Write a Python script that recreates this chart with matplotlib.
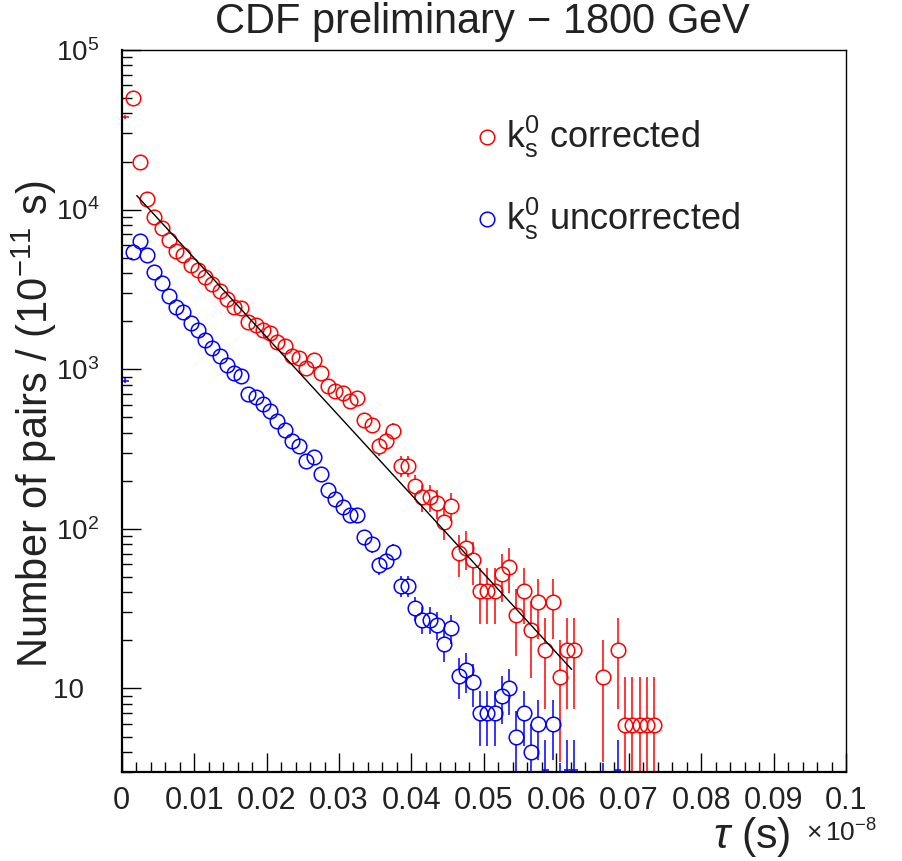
import numpy as np
import matplotlib
matplotlib.use("Agg")
import matplotlib.pyplot as plt
from matplotlib.collections import LineCollection
from matplotlib.ticker import FixedLocator, FuncFormatter, NullFormatter

# ===================== DATA =====================
# lifetime histogram, bins of 0.001 (x 1e-8 s), counts per bin
BIN_WIDTH = 0.001

corrected = [38000, 50000, 19800, 11700, 8970, 7650, 6440, 5540, 5190, 4510,
             4200, 3780, 3410, 3070, 2750, 2470, 2415, 1963, 1900, 1767,
             1685, 1472, 1390, 1215, 1175, 1018, 1135, 946, 780, 726,
             710, 629, 661, 480, 448, 329, 357, 412, 247, 247,
             185, 158, 158, 145, 110, 140, 70.7, 76, 63.5, 41,
             41, 41, 52, 58, 29, 41, 23.4, 34.7, 17.5, 34.7,
             11.8, 17.5, 17.5, 0, 0, 0, 11.8, 0, 17.5, 5.9,
             5.9, 5.9, 5.9, 5.9]

uncorrected = [848, 5460, 6370, 5210, 4090, 3460, 2880, 2450, 2270, 1945,
               1767, 1530, 1358, 1215, 1066, 946, 901, 703, 670, 605,
               544, 471, 418, 357, 329, 268, 282, 222, 176, 154,
               138, 123, 123, 89, 80, 59, 63, 72, 44, 44,
               32, 27, 27, 25, 19, 24, 12, 13, 11, 7,
               7, 7, 9, 10, 5, 7, 4, 6, 3, 6,
               2, 3, 3, 0, 0, 0, 2, 0, 3, 1,
               1, 1, 1, 1]

# exponential fit, end points
fit_tau = [0.0021, 0.0621]
fit_n = [12200, 13.2]

x_ticks = [0, 0.01, 0.02, 0.03, 0.04, 0.05, 0.06, 0.07, 0.08, 0.09, 0.1]
x_tick_labels = ["0", "0.01", "0.02", "0.03", "0.04", "0.05", "0.06",
                 "0.07", "0.08", "0.09", "0.1"]

XMIN, XMAX = 0.0, 0.1
YMIN, YMAX = 3.0, 1.0e5

corrected = np.array(corrected, dtype=float)
uncorrected = np.array(uncorrected, dtype=float)
tau = BIN_WIDTH * (np.arange(len(corrected)) + 0.5)

# poisson errors; corrected errors scale with the raw counts
unc_err = np.sqrt(uncorrected)
cor_err = np.where(uncorrected > 0, corrected / np.sqrt(np.maximum(uncorrected, 1)), 0)

# ===================== STYLE =====================
plt.rcParams['font.family'] = ['Liberation Sans', 'DejaVu Sans']
plt.rcParams['mathtext.fontset'] = 'custom'
plt.rcParams['mathtext.rm'] = 'Liberation Sans'
plt.rcParams['mathtext.it'] = 'Liberation Sans:italic'
TXT = "#222222"

DPI = 100
fig = plt.figure(figsize=(9.03, 8.61), dpi=DPI)
ax = fig.add_axes([0.1348, 0.1034, 0.8021, 0.8386])
ax.set_yscale("log")
ax.set_xlim(XMIN, XMAX)
ax.set_ylim(YMIN, YMAX)

for side in ["left", "bottom"]:
    ax.spines[side].set_linewidth(1.6)
for side in ["top", "right"]:
    ax.spines[side].set_linewidth(1.0)

ax.xaxis.set_major_locator(FixedLocator(x_ticks))
ax.xaxis.set_major_formatter(FuncFormatter(
    lambda v, p: x_tick_labels[p] if p is not None and p < len(x_tick_labels) else ""))
ax.xaxis.set_minor_locator(FixedLocator(np.arange(0, 0.1001, 0.002)))

y_major = [10, 100, 1000, 10000, 100000]
y_minor = [m * 10**e for e in range(0, 5) for m in range(2, 10) if YMIN <= m * 10**e <= YMAX]
ax.yaxis.set_major_locator(FixedLocator(y_major))
ax.yaxis.set_minor_locator(FixedLocator(y_minor))
ax.yaxis.set_minor_formatter(NullFormatter())


def ylab(v, p):
    e = int(round(np.log10(v)))
    if e == 1:
        return "10  "
    return r"$\mathregular{10^{%d}}$" % e


ax.yaxis.set_major_formatter(FuncFormatter(ylab))

ax.tick_params(axis="both", which="both", direction="in", top=False, right=False,
               colors="black", labelcolor=TXT)
ax.tick_params(axis="both", which="major", length=14, width=1.0)
ax.tick_params(axis="both", which="minor", length=7, width=1.0)
ax.tick_params(axis="x", which="major", labelsize=22, pad=10)
ax.tick_params(axis="y", which="major", labelsize=20, pad=16)

# ===================== HISTOGRAMS =====================
R_PX = 7.0  # marker radius in pixels
MS = 10.5


def draw_hist(x, y, err, color):
    to_px = ax.transData.transform
    from_px = ax.transData.inverted().transform
    (L, B), (R, T) = to_px([(XMIN, YMIN), (XMAX, YMAX)])
    half_px = to_px((BIN_WIDTH / 2, YMIN))[0] - to_px((0, YMIN))[0]
    segs = []
    mx, my = [], []
    for xi, yi, ei in zip(x, y, err):
        if yi <= 0:
            continue
        px, py = to_px((xi, yi))
        hi = to_px((xi, yi + ei))[1]
        lo = to_px((xi, max(yi - ei, 1e-3)))[1]
        inside = (px - L >= R_PX and R - px >= R_PX and
                  py - B >= R_PX and T - py >= R_PX)
        if inside:
            mx.append(xi)
            my.append(yi)
            if hi > py + R_PX:
                segs.append([(px, py + R_PX), (px, hi)])
            if lo < py - R_PX:
                segs.append([(px, lo), (px, py - R_PX)])
        else:
            # marker crosses the frame: only the bars are drawn
            segs.append([(px, lo), (px, hi)])
            if py >= B - 3:
                yb = max(py, B + 2)
                segs.append([(px - half_px, yb), (px + half_px, yb)])
    segs = [[tuple(from_px(p)) for p in s] for s in segs]
    ax.add_collection(LineCollection(segs, colors=color, linewidths=1.1))
    ax.plot(mx, my, "o", ms=MS, mfc="none", mec=color, mew=1.1, ls="none")


draw_hist(tau, corrected, cor_err, "#ff0000")
draw_hist(tau, uncorrected, unc_err, "#0000ff")

ax.plot(fit_tau, fit_n, color="black", lw=1.0)

# ===================== LEGEND =====================
ax.plot([0.504], [0.8795], "o", ms=MS, mfc="none", mec="#ff0000", mew=1.1,
        transform=ax.transAxes, clip_on=False)
ax.plot([0.504], [0.766], "o", ms=MS, mfc="none", mec="#0000ff", mew=1.1,
        transform=ax.transAxes, clip_on=False)
ax.text(0.531, 0.8795, r"$\mathregular{k^0_s}$ corrected", transform=ax.transAxes,
        fontsize=26, color=TXT, va="center", ha="left")
ax.text(0.531, 0.766, r"$\mathregular{k^0_s}$ uncorrected", transform=ax.transAxes,
        fontsize=26, color=TXT, va="center", ha="left")

# ===================== LABELS =====================
fig.text(0.535, 0.974, "CDF preliminary $-$ 1800 GeV", ha="center", va="center",
         fontsize=30, color=TXT)
fig.text(0.038, 0.5075, r"Number of pairs / (10$^{-11}$ s)", rotation=90,
         ha="center", va="center", fontsize=30, color=TXT)
fig.text(0.875, 0.028, r"$\tau$ (s)", ha="right", va="center", fontsize=31, color=TXT)
fig.text(0.893, 0.032, r"$\mathregular{\times\,10^{-8}}$", ha="left", va="center",
         fontsize=19, color=TXT)

fig.savefig("out.png", dpi=DPI)
